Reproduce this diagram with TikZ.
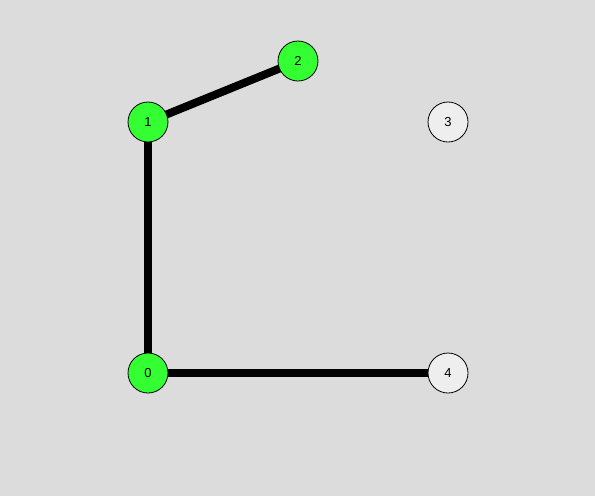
\documentclass[tikz,border=0pt]{standalone}
\usepackage{fontspec}
\setmainfont{Liberation Sans}
\usepackage{xcolor}
\usetikzlibrary{positioning}
\definecolor{bggray}{HTML}{DCDCDC}
\definecolor{visited}{HTML}{33FF33}
\definecolor{unvisited}{HTML}{EEEEEE}
\tikzset{
  vertex/.style={circle, draw=black, line width=0.8pt, minimum size=40pt, inner sep=0pt, font=\fontsize{13}{15}\selectfont},
  treeedge/.style={line width=8pt, black}
}
\begin{document}
\begin{tikzpicture}[x=1pt,y=-1pt]
        \fill [bggray] (0,0) rectangle (595,496);
        \useasboundingbox (0,0) rectangle (595,496);

        % tree edges
        \coordinate (c0) at (148,373);
        \coordinate (c1) at (148,122);
        \coordinate (c2) at (298,61);
        \coordinate (c4) at (448,373);
        \draw [treeedge] (c0) -- (c1);
        \draw [treeedge] (c1) -- (c2);
        \draw [treeedge] (c0) -- (c4);

        % vertices
        \node [vertex, fill=visited] (n0) at (c0) {0};
        \node [vertex, fill=visited] (n1) at (c1) {1};
        \node [vertex, fill=visited] (n2) at (c2) {2};
        \node [vertex, fill=unvisited] (n3) at (448,122) {3};
        \node [vertex, fill=unvisited] (n4) at (c4) {4};
      \end{tikzpicture}
\end{document}
